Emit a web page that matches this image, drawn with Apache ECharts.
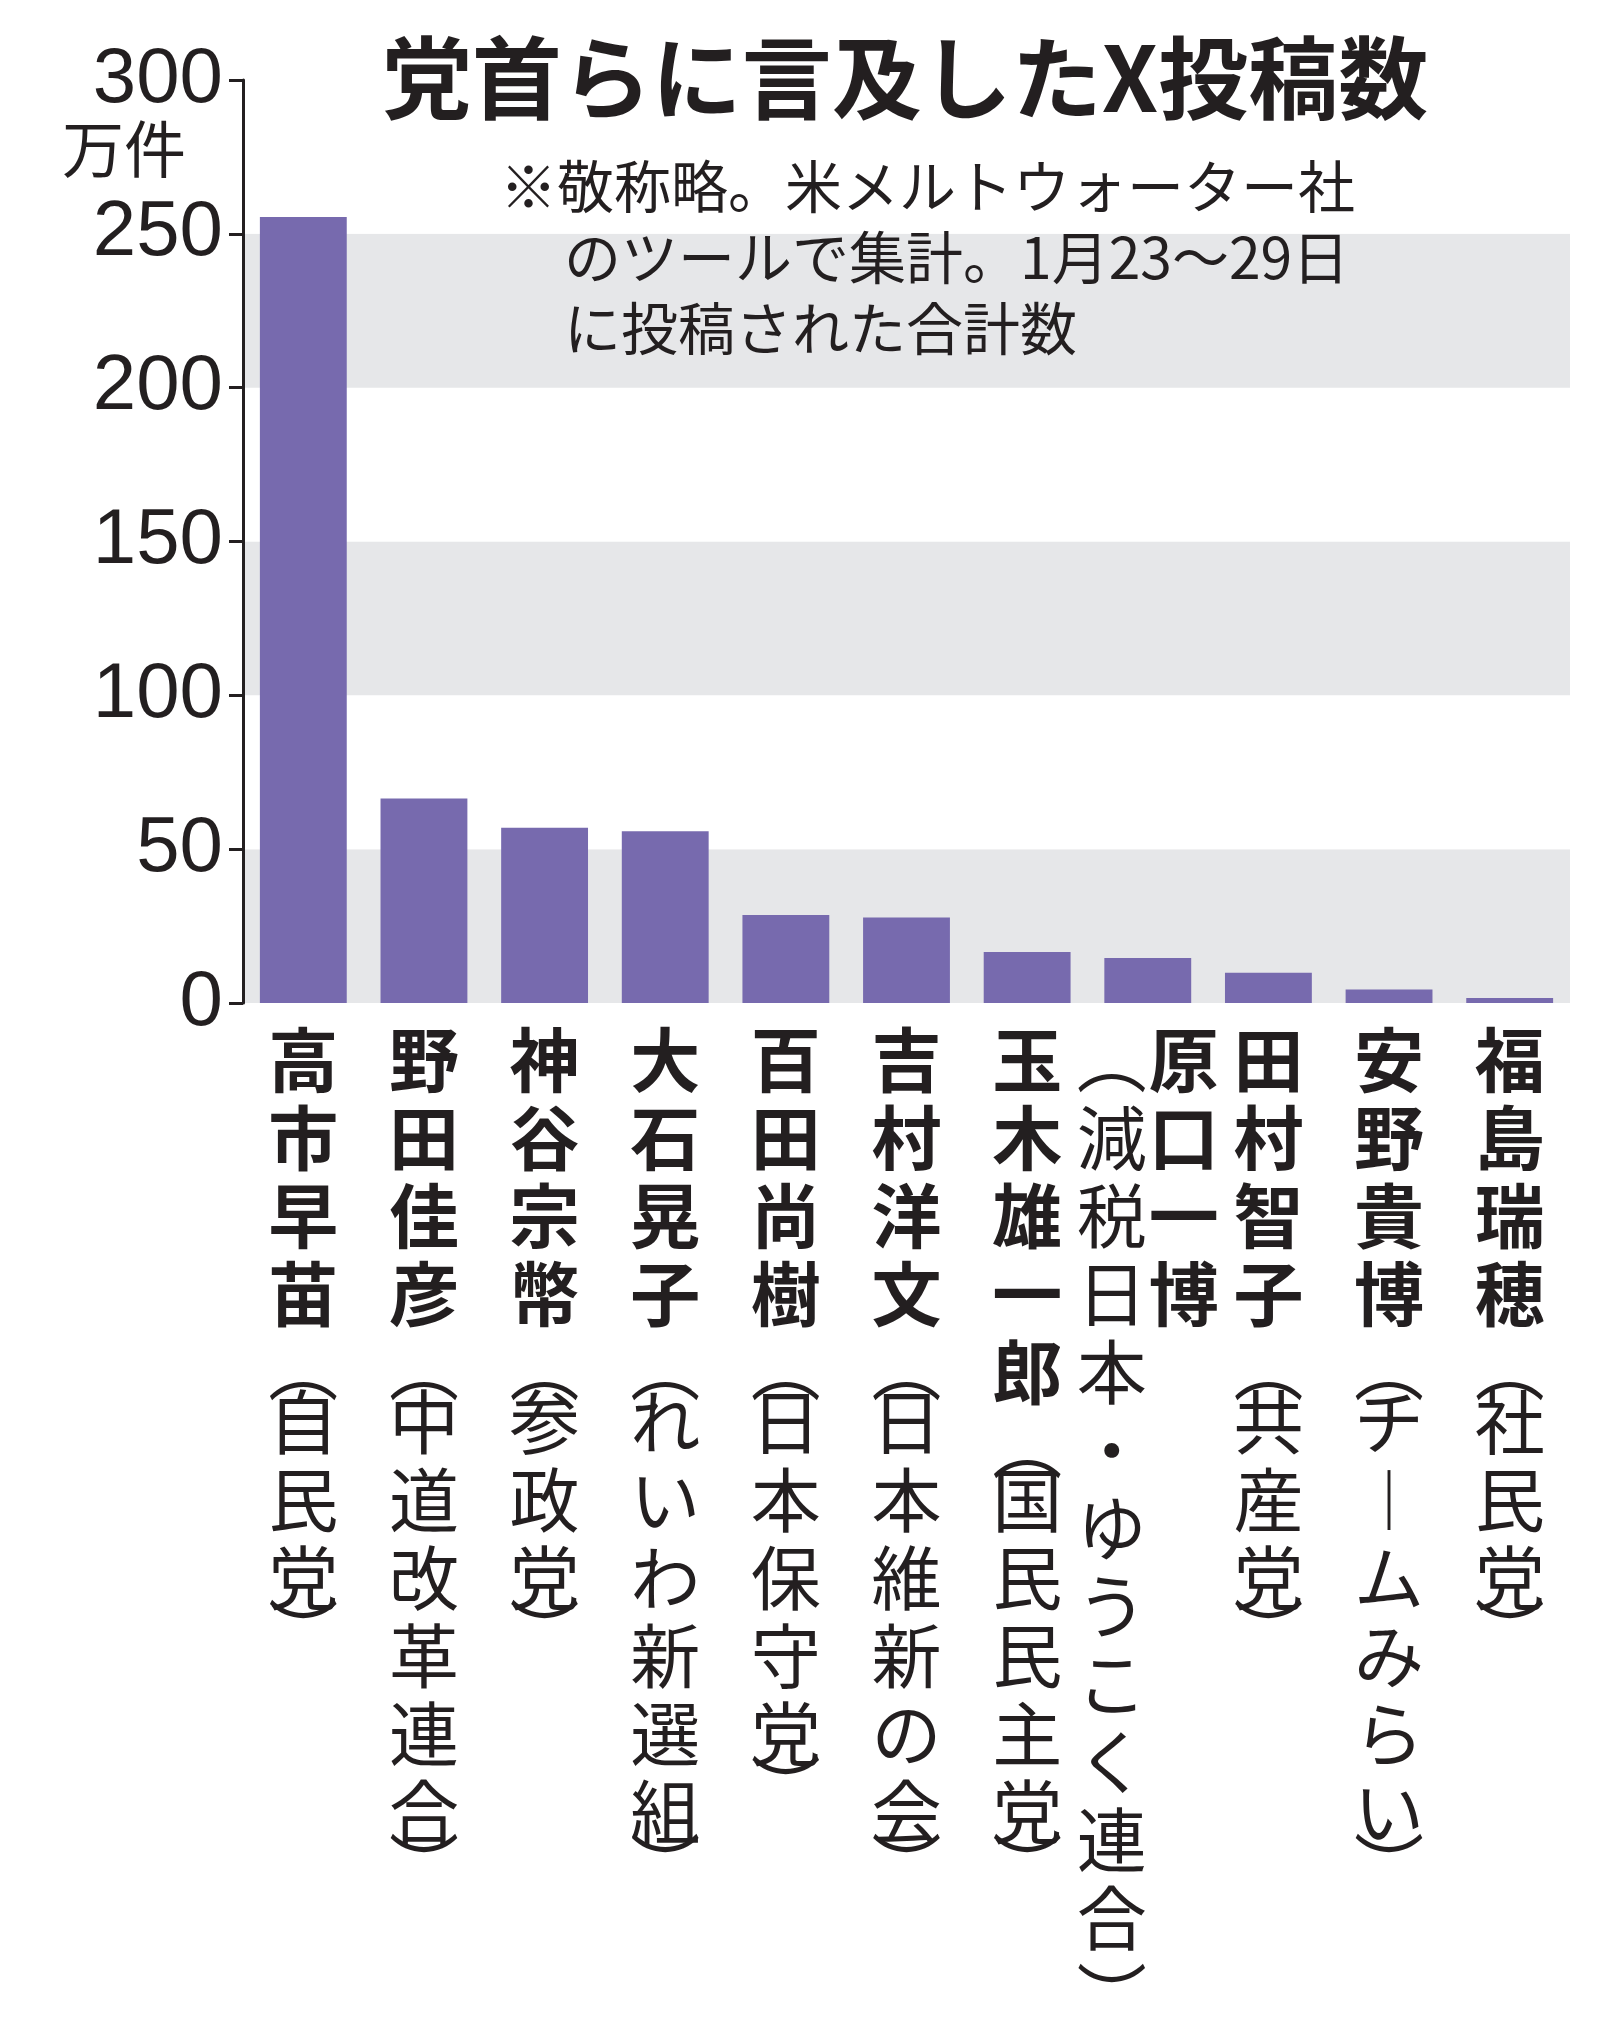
<!DOCTYPE html>
<html><head><meta charset="utf-8">
<script src="https://cdn.jsdelivr.net/npm/echarts@6/dist/echarts.min.js"></script>
<style>html,body{margin:0;padding:0;background:#fff}#main{width:1606px;height:2031px}</style>
</head><body><div id="main"></div>
<script>
var names = ['高市早苗', '野田佳彦', '神谷宗幣', '大石晃子', '百田尚樹', '吉村洋文', '玉木雄一郎', '原口一博', '田村智子', '安野貴博', '福島瑞穂'];
var parties = ['自民党', '中道改革連合', '参政党', 'れいわ新選組', '日本保守党', '日本維新の会', '国民民主党', '減税日本・ゆうこく連合', '共産党', 'チームみらい', '社民党'];
var values = [255.5, 66.5, 57, 55.8, 28.6, 27.8, 16.6, 14.6, 9.8, 4.4, 1.6];
var yTicks = [0, 50, 100, 150, 200, 250, 300];

// vertical forms for parentheses and long vowel mark
function vchars(s) {
    return s.replace(/ー/g, '︱').split('');
}
var cats = names.map(function (n, i) {
    var nm = vchars(n), pt = vchars(parties[i]);
    if (i === 7) {
        // two columns: party (left) and name (right)
        pt = ['︵'].concat(pt, ['︶']);
        var lines = [];
        for (var k = 0; k < pt.length; k++) {
            var st = (pt[k] === '︵' || pt[k] === '︶') ? 'q' : 'p';
            lines.push('{' + st + '|' + pt[k] + '}' + (k < nm.length ? '{n|' + nm[k] + '}' : '{e| }'));
        }
        return lines.join('\n');
    }
    return nm.map(function (c) { return '{n|' + c + '}'; })
        .concat(['{o|︵}'], pt.map(function (c) { return '{p|' + c + '}'; }), ['{c|︶}']).join('\n');
});

var txt = {fontFamily: 'Noto Sans CJK JP', fontSize: 57, fill: '#231f20'};
var chart = echarts.init(document.getElementById('main'));
chart.setOption({
    animation: false,
    grid: {left: 243, right: 36, top: 80, bottom: 937},
    title: {
        text: '党首らに言及したX投稿数', left: 900, top: 28, textAlign: 'center',
        textStyle: {fontFamily: 'Noto Sans CJK JP', fontSize: 90, fontWeight: 'bold', color: '#231f20'}
    },
    graphic: [
        {type: 'text', x: 500, y: 158, z: 100, style: Object.assign({text: '※敬称略。米メルトウォーター社'}, txt)},
        {type: 'text', x: 564, y: 229, z: 100, style: Object.assign({text: 'のツールで集計。1月23〜29日'}, txt)},
        {type: 'text', x: 564, y: 300, z: 100, style: Object.assign({text: 'に投稿された合計数'}, txt)},
        {type: 'text', x: 62, y: 118, z: 100, style: Object.assign({text: '万件'}, txt, {fontSize: 62})}
    ],
    xAxis: {
        type: 'category', data: cats,
        axisLine: {show: false}, axisTick: {show: false},
        axisLabel: {
            interval: 0, margin: 18, verticalAlign: 'top',
            rich: {
                n: {fontFamily: 'Noto Sans CJK JP', fontSize: 70, fontWeight: 'bold', lineHeight: 78, color: '#231f20', width: 72, align: 'center'},
                p: {fontFamily: 'Noto Sans CJK JP', fontSize: 70, lineHeight: 78, color: '#231f20', width: 72, align: 'center'},
                q: {fontFamily: 'Noto Sans CJK JP', fontSize: 70, lineHeight: 78, color: '#231f20', width: 72, align: 'center'},
                o: {fontFamily: 'Noto Sans CJK JP', fontSize: 70, lineHeight: 50, color: '#231f20', width: 72, align: 'center', verticalAlign: 'top'},
                c: {fontFamily: 'Noto Sans CJK JP', fontSize: 70, lineHeight: 50, color: '#231f20', width: 72, align: 'center', verticalAlign: 'bottom'},
                e: {fontSize: 70, lineHeight: 78, width: 72}
            }
        }
    },
    yAxis: {
        type: 'value', min: yTicks[0], max: yTicks[yTicks.length - 1], interval: 50,
        axisLine: {show: true, lineStyle: {color: '#231f20', width: 3}},
        axisTick: {show: true, length: 14, lineStyle: {color: '#231f20', width: 3}},
        splitLine: {show: false},
        splitArea: {show: true, areaStyle: {color: ['#e6e7e9', '#ffffff']}},
        axisLabel: {
            margin: 20, color: '#231f20', fontSize: 78, fontFamily: 'Liberation Sans',
            formatter: function (v) { return yTicks.indexOf(v) >= 0 ? String(v) : ''; }
        }
    },
    series: [{
        type: 'bar', data: values, barWidth: '72%',
        itemStyle: {color: '#776aae'}
    }]
});
</script></body></html>
